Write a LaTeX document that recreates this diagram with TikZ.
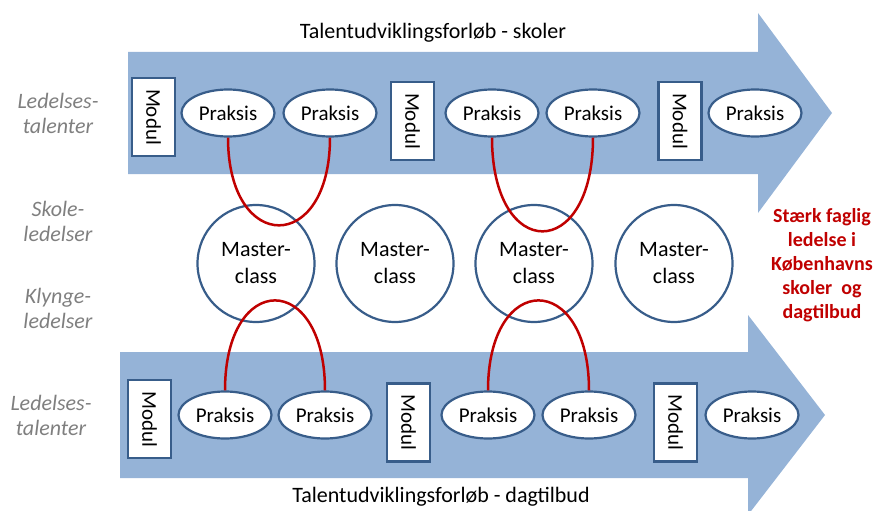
\documentclass[tikz,border=0pt]{standalone}
\usepackage{fontspec}
\setmainfont{Carlito}
\usetikzlibrary{shapes.geometric}
\definecolor{arrowblue}{HTML}{95B3D7}
\definecolor{edgeblue}{HTML}{385D8A}
\definecolor{linkred}{HTML}{C00000}
\definecolor{labelgray}{HTML}{7F7F7F}
\tikzset{
  bigarrow/.style={fill=arrowblue, draw=none},
  modulbox/.style={draw=edgeblue, line width=2.2pt, fill=white, rotate=-90,
    minimum width=78pt, minimum height=43pt, inner sep=0pt,
    font=\fontsize{21}{24}\selectfont},
  praksis/.style={ellipse, draw=edgeblue, line width=2.2pt, fill=white,
    minimum width=93pt, minimum height=47pt, inner sep=0pt,
    font=\fontsize{21}{24}\selectfont},
  mclass/.style={circle, draw=edgeblue, line width=2.2pt, fill=white,
    minimum size=117pt, inner sep=0pt, align=center,
    font=\fontsize{22}{27}\selectfont},
  sidelabel/.style={text=labelgray, align=center, inner sep=0pt,
    font=\fontsize{22}{25}\selectfont\itshape},
  titletext/.style={inner sep=0pt, font=\fontsize{22}{24}\selectfont},
  goaltext/.style={text=linkred, align=center, inner sep=0pt,
    font=\fontsize{20}{24}\selectfont\bfseries},
  link/.style={draw=linkred, line width=2.5pt}
}
\begin{document}
\begin{tikzpicture}[x=1pt, y=-1pt]
\useasboundingbox (0,0) rectangle (873,511);
\clip (0,0) rectangle (873,511);
% arrows
\path[bigarrow] (128,52) -- (758,52) -- (758,13) -- (832,113) -- (758,213) -- (758,174) -- (128,174) -- cycle;
\path[bigarrow] (120,352) -- (748,352) -- (748,315) -- (825,415) -- (748,515) -- (748,478) -- (120,478) -- cycle;
% titles
\node[titletext] (t1) at (433,33) {Talentudviklingsforløb - skoler};
\node[titletext] (t2) at (441,497) {Talentudviklingsforløb - dagtilbud};
% side labels
\node[sidelabel] (l1) at (58,113) {Ledelses-\\talenter};
\node[sidelabel] (l2) at (58,221) {Skole-\\ledelser};
\node[sidelabel] (l3) at (58,308) {Klynge-\\ledelser};
\node[sidelabel] (l4) at (51,415) {Ledelses-\\talenter};
% top row
\node[modulbox] (m1) at (153.5,117) {Modul};
\node[modulbox] (m2) at (412.5,121) {Modul};
\node[modulbox] (m3) at (680,121) {Modul};
\node[praksis] (p1) at (228,113) {Praksis};
\node[praksis] (p2) at (330,113) {Praksis};
\node[praksis] (p3) at (492,113) {Praksis};
\node[praksis] (p4) at (593,113) {Praksis};
\node[praksis] (p5) at (755,113) {Praksis};
% bottom row
\node[modulbox] (n1) at (149.5,419) {Modul};
\node[modulbox] (n2) at (408.5,422.5) {Modul};
\node[modulbox] (n3) at (675.5,422.5) {Modul};
\node[praksis] (q1) at (225,415) {Praksis};
\node[praksis] (q2) at (325,415) {Praksis};
\node[praksis] (q3) at (488,415) {Praksis};
\node[praksis] (q4) at (589,415) {Praksis};
\node[praksis] (q5) at (752,415) {Praksis};
% master classes
\node[mclass] (c1) at (256,263.5) {Master-\\class};
\node[mclass] (c2) at (395,263.5) {Master-\\class};
\node[mclass] (c3) at (534,263.5) {Master-\\class};
\node[mclass] (c4) at (674,263.5) {Master-\\class};
% goal
\node[goaltext] (g) at (822,265) {Stærk faglig\\ledelse i\\Københavns\\skoler\ \ og\\dagtilbud};
% links
\draw[link] (p1.south) .. controls +(0,117) and +(0,117) .. (p2.south);
\draw[link] (p3.south) .. controls +(0,125) and +(0,125) .. (p4.south);
\draw[link] (q1.north) .. controls +(0,-120) and +(0,-120) .. (q2.north);
\draw[link] (q3.north) .. controls +(0,-120) and +(0,-120) .. (q4.north);
\end{tikzpicture}
\end{document}
